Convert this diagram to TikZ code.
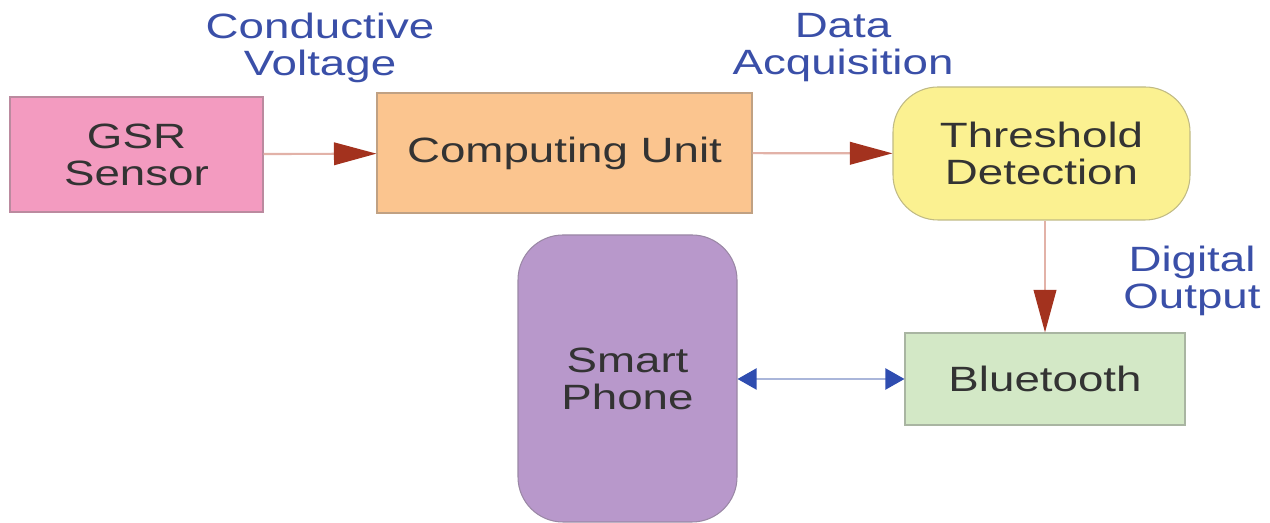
\documentclass[tikz,border=0pt]{standalone}
\usepackage{fontspec}
\setmainfont[FakeStretch=1.3]{Liberation Sans}
\usetikzlibrary{arrows.meta}
\definecolor{gsrpink}{HTML}{F39BC0}
\definecolor{cuorange}{HTML}{FBC58F}
\definecolor{thyellow}{HTML}{FBF191}
\definecolor{btgreen}{HTML}{D3E8C6}
\definecolor{phpurple}{HTML}{B898CB}
\definecolor{lblblue}{HTML}{3A4FA8}
\definecolor{headred}{HTML}{A3321E}
\definecolor{linered}{HTML}{E2B2A8}
\definecolor{headblue}{HTML}{2F4DB0}
\definecolor{lineblue}{HTML}{AAB6DA}
\tikzset{
  blk/.style={draw=#1!70!black!80, line width=0.6pt, fill=#1, align=center,
    text=black!80, inner sep=0pt, font=\fontsize{20}{21}\selectfont},
  lbl/.style={align=center, text=lblblue, font=\fontsize{20}{21}\selectfont},
  flow/.style={draw=linered, line width=1.2pt,
    -{Triangle[length=0.85cm,width=0.45cm,fill=headred,color=headred]}},
  link/.style={draw=lineblue, line width=1.2pt,
    {Triangle[length=0.38cm,width=0.42cm,fill=headblue,color=headblue]}-{Triangle[length=0.38cm,width=0.42cm,fill=headblue,color=headblue]}}
}
\begin{document}
\begin{tikzpicture}
		\useasboundingbox (0,0) rectangle (25.4,10.46);
		% blocks
		\node[blk=gsrpink, minimum width=5.06cm, minimum height=2.3cm] (gsr) at (2.73,7.37) {GSR\\Sensor};
		\node[blk=cuorange, minimum width=7.5cm, minimum height=2.4cm] (cu) at (11.29,7.4) {Computing Unit};
		\node[blk=thyellow, rounded corners=0.9cm, minimum width=5.94cm, minimum height=2.66cm] (th) at (20.83,7.39) {Threshold\\Detection};
		\node[blk=btgreen, minimum width=5.6cm, minimum height=1.84cm] (bt) at (20.9,2.88) {Bluetooth};
		\node[blk=phpurple, rounded corners=0.9cm, minimum width=4.38cm, minimum height=5.74cm] (ph) at (12.55,2.89) {Smart\\Phone};
		
		% labels
		\node[lbl] (cv) at (6.4,9.5) {Conductive\\Voltage};
		\node[lbl] (da) at (16.86,9.5) {Data\\Acquisition};
		\node[lbl] (dout) at (23.84,4.84) {Digital\\Output};
		
		% connectors
		\draw[flow] (gsr) to (cu);
		\draw[flow] (cu) to (th);
		\draw[flow] (bt.north |- th.south) to (bt.north);
		\draw[link] (ph.east |- bt.west) to (bt.west);
    \end{tikzpicture}
\end{document}
